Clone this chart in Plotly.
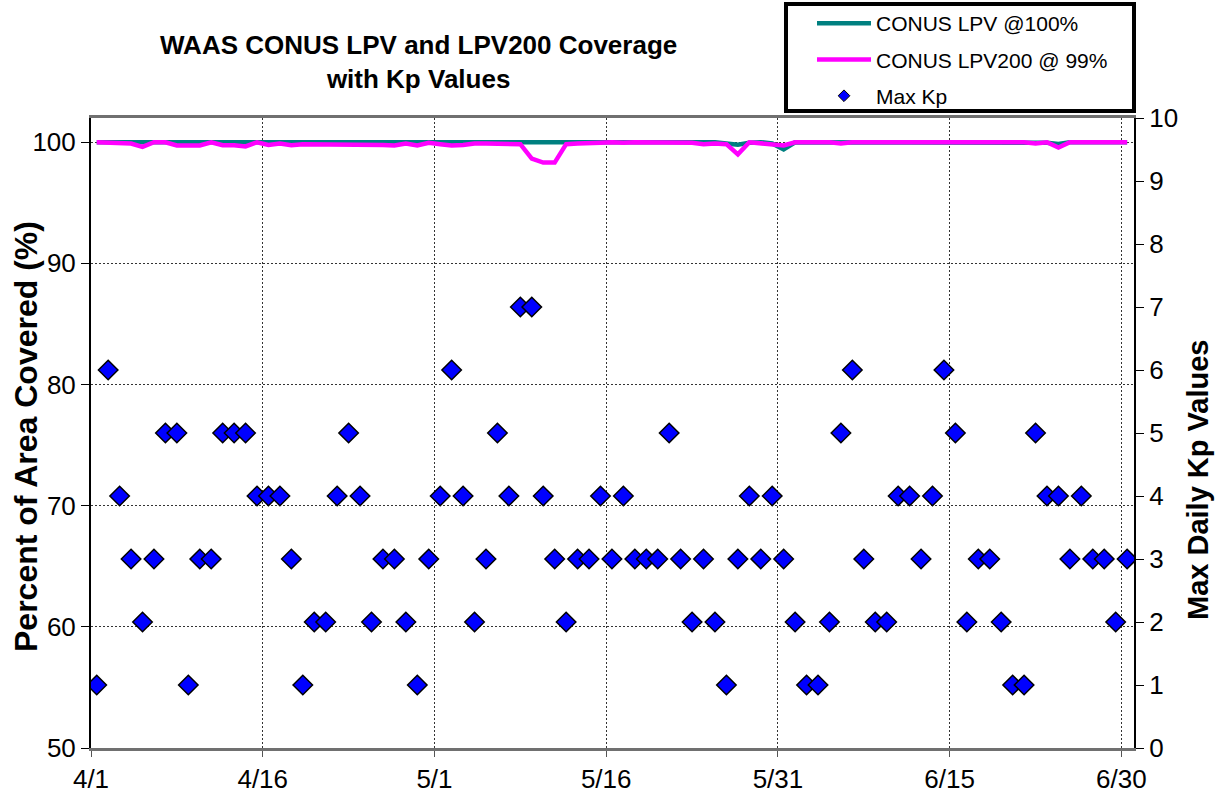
import plotly.graph_objects as go
import pandas as pd

# ---------------- data ----------------
dates = pd.date_range("2010-04-01", "2010-06-30", freq="D")
day_labels = [f"{d.month}/{d.day}" for d in dates]
day_index = list(range(len(dates)))

tick_labels = ["4/1", "4/16", "5/1", "5/16", "5/31", "6/15", "6/30"]

lpv_100 = [100.0] * 55 + [99.9, 99.8, 99.95, 100.0, 99.9, 99.4] + [100.0] * 21 + [99.95, 99.95, 99.85] + [100.0] * 6

lpv200_99 = [
    100.0, 99.95, 99.90, 99.89, 99.62, 100.0, 100.0, 99.73, 99.73, 99.73,
    100.0, 99.75, 99.75, 99.65, 100.0, 99.78, 99.89, 99.75, 99.84, 99.84,
    99.84, 99.78, 99.84, 99.75, 99.84, 99.78, 99.73, 99.89, 99.73, 99.95,
    99.84, 99.73, 99.78, 99.89, 99.89, 99.89, 99.89, 99.84, 98.65, 98.32,
    98.32, 99.84, 99.89, 99.89, 99.95, 100.0, 99.95, 100.0, 100.0, 100.0,
    100.0, 100.0, 99.95, 99.84, 99.89, 99.84, 99.00, 100.0, 99.89, 99.78,
    99.73, 100.0, 100.0, 100.0, 100.0, 99.90, 100.0, 100.0, 100.0, 100.0,
    100.0, 100.0, 100.0, 100.0, 100.0, 100.0, 100.0, 100.0, 100.0, 100.0,
    100.0, 100.0, 99.90, 100.0, 99.56, 100.0, 100.0, 100.0, 100.0, 100.0,
    100.0,
]

max_kp = [
    1, 6, 4, 3, 2, 3, 5, 5, 1, 3, 3, 5, 5, 5, 4, 4, 4, 3, 1, 2, 2, 4, 5, 4, 2, 3, 3, 2, 1, 3, 4,
    6, 4, 2, 3, 5, 4, 7, 7, 4, 3, 2, 3, 3, 4, 3, 4, 3, 3, 3, 5, 3, 2, 3, 2, 1, 3, 4, 3, 4, 3,
    2, 1, 1, 2, 5, 6, 3, 2, 2, 4, 4, 3, 4, 6, 5, 2, 3, 3, 2, 1, 1, 5, 4, 4, 3, 4, 3, 3, 2, 3,
]

left_ticks = [50, 60, 70, 80, 90, 100]
right_ticks = list(range(0, 11))

# tick positions sit on day boundaries (start of the labelled day)
tick_pos = [day_labels.index(t) - 0.5 for t in tick_labels]

FONT = "Liberation Sans, Arial, sans-serif"

fig = go.Figure()
fig.add_trace(go.Scatter(
    x=day_index, y=lpv_100, mode="lines", name="CONUS LPV @100%",
    line=dict(color="#008080", width=4.5), legendgroup="a",
    text=day_labels, hovertemplate="%{text}: %{y}<extra></extra>",
))
fig.add_trace(go.Scatter(
    x=day_index, y=lpv200_99, mode="lines", name="CONUS LPV200 @ 99%",
    line=dict(color="#FF00FF", width=4.5), legendgroup="b",
    text=day_labels, hovertemplate="%{text}: %{y}<extra></extra>",
))
fig.add_trace(go.Scatter(
    x=day_index, y=max_kp, mode="markers", name="Max Kp", yaxis="y2",
    marker=dict(symbol="diamond", size=15, color="#0000FF",
                line=dict(color="black", width=1.5)),
    showlegend=False, legendgroup="c",
    text=day_labels, hovertemplate="%{text}: Kp %{y}<extra></extra>",
))
# legend-only entry with the small diamond used in the reference legend
fig.add_trace(go.Scatter(
    x=[None], y=[None], mode="markers", name="Max Kp", yaxis="y2",
    marker=dict(symbol="diamond", size=9, color="#0000FF",
                line=dict(color="black", width=1)),
    legendgroup="c",
))

L, R, T, B = 91, 83, 118, 53
W, H = 1217, 801
pw, ph = W - L - R, H - T - B

def px(xp):
    return (xp - L) / pw

def py(yp):
    return (H - B - yp) / ph

fig.update_layout(
    width=W, height=H,
    margin=dict(l=L, r=R, t=T, b=B, pad=0, autoexpand=False),
    paper_bgcolor="white", plot_bgcolor="white",
    font=dict(family=FONT, size=24, color="black"),
    showlegend=True,
    legend=dict(
        xref="container", yref="container",
        x=812 / W, y=1 - 3 / H, xanchor="left", yanchor="top",
        bgcolor="rgba(0,0,0,0)", borderwidth=0,
        font=dict(family=FONT, size=21, color="black"),
        itemwidth=54, tracegroupgap=6, traceorder="grouped",
    ),
    xaxis=dict(
        range=[-0.5, 90.6], tickmode="array", tickvals=tick_pos, ticktext=tick_labels,
        showgrid=True, gridcolor="#333333", gridwidth=1, griddash="2px,2px",
        showline=True, linecolor="#707070", linewidth=3, mirror=True,
        ticks="outside", ticklen=6, tickcolor="#555555",
        tickfont=dict(family=FONT, size=26), zeroline=False, automargin=False,
    ),
    yaxis=dict(
        range=[50, 102], tickmode="array", tickvals=left_ticks,
        showgrid=True, gridcolor="#333333", gridwidth=1, griddash="2px,2px",
        showline=True, linecolor="black", linewidth=2,
        ticks="outside", ticklen=8, tickcolor="black",
        tickfont=dict(family=FONT, size=26), zeroline=False, automargin=False,
    ),
    yaxis2=dict(
        range=[0, 10], tickmode="array", tickvals=right_ticks,
        overlaying="y", side="right", showgrid=False,
        showline=True, linecolor="black", linewidth=2,
        ticks="outside", ticklen=8, tickcolor="black",
        tickfont=dict(family=FONT, size=26), zeroline=False, automargin=False,
    ),
    shapes=[dict(
        type="rect", xref="paper", yref="paper",
        x0=px(786), x1=px(1134), y0=py(111), y1=py(4),
        line=dict(color="black", width=4), fillcolor="rgba(0,0,0,0)",
    )],
    annotations=[
        dict(text="<b>WAAS CONUS LPV and LPV200 Coverage<br>with Kp Values</b>",
             xref="paper", yref="paper", x=px(418), y=py(62),
             xanchor="center", yanchor="middle", showarrow=False,
             font=dict(family=FONT, size=26, color="black")),
        dict(text="<b>Percent of Area Covered (%)</b>",
             xref="paper", yref="paper", x=px(26), y=py(437),
             xanchor="center", yanchor="middle", textangle=-90, showarrow=False,
             font=dict(family=FONT, size=32, color="black")),
        dict(text="<b>Max Daily Kp Values</b>",
             xref="paper", yref="paper", x=px(1198), y=py(480),
             xanchor="center", yanchor="middle", textangle=-90, showarrow=False,
             font=dict(family=FONT, size=29, color="black")),
    ],
)

fig.write_html(
    "out.html",
    config={"displayModeBar": False},
    post_script="document.body.style.margin='0';document.body.style.overflow='hidden';",
)
